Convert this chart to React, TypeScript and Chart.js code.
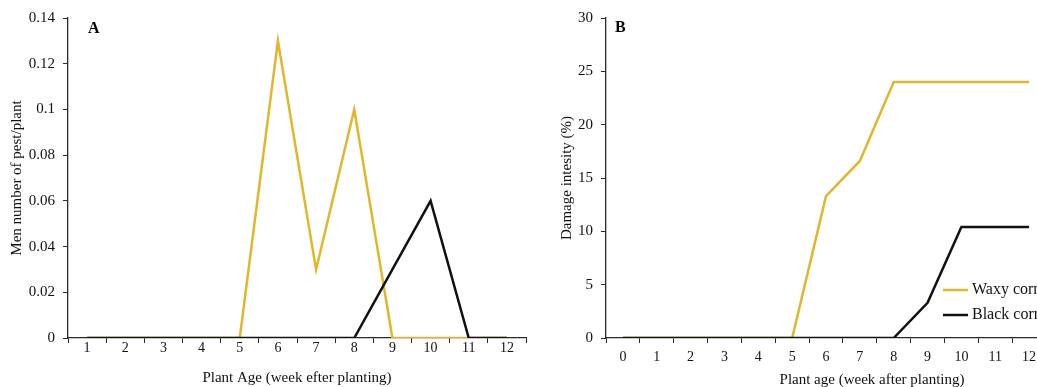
import { useEffect, useRef } from "react";
import { Chart, registerables } from "chart.js";

Chart.register(...registerables);

// ---- Panel A data ----
const weeksA = ["1", "2", "3", "4", "5", "6", "7", "8", "9", "10", "11", "12"];
const waxyPestA = [0, 0, 0, 0, 0, 0.13, 0.03, 0.1, 0, 0, 0, 0];
const blackPestA = [0, 0, 0, 0, 0, 0, 0, 0, 0.03, 0.06, 0, 0];
const yTickLabelsA = ["0", "0.02", "0.04", "0.06", "0.08", "0.1", "0.12", "0.14"];

// ---- Panel B data ----
const weeksB = ["0", "1", "2", "3", "4", "5", "6", "7", "8", "9", "10", "11", "12"];
const waxyDamageB = [0, 0, 0, 0, 0, 0, 13.3, 16.6, 24, 24, 24, 24, 24];
const blackDamageB = [0, 0, 0, 0, 0, 0, 0, 0, 0, 3.3, 10.4, 10.4, 10.4];
const yTickLabelsB = ["0", "5", "10", "15", "20", "25", "30"];

const seriesNames = ["Waxy corn", "Black corn"];

const YELLOW = "#E2B62A";
const BLACK = "#111111";
const AXIS = "#2a2a2a";
const FONT = "'Liberation Serif', 'Times New Roman', serif";

const decorPlugin = {
  id: "decor",
  afterDraw(chart: any, _args: any, opts: any) {
    const { ctx, chartArea } = chart;
    ctx.save();
    if (opts.letter) {
      ctx.font = `bold 16px ${FONT}`;
      ctx.fillStyle = "#000";
      ctx.textAlign = "left";
      ctx.textBaseline = "alphabetic";
      ctx.fillText(opts.letter, chartArea.left + opts.letterDx, chartArea.top + opts.letterDy);
    }
    if (opts.legend) {
      const x0 = chartArea.right - opts.legend.dxFromRight;
      opts.legend.items.forEach((it: any, i: number) => {
        const y = chartArea.bottom - opts.legend.dyFromBottom + i * 25;
        ctx.strokeStyle = it.color;
        ctx.lineWidth = 2.5;
        ctx.beginPath();
        ctx.moveTo(x0, y);
        ctx.lineTo(x0 + 25, y);
        ctx.stroke();
        ctx.font = `16px ${FONT}`;
        ctx.fillStyle = "#111";
        ctx.textAlign = "left";
        ctx.textBaseline = "middle";
        ctx.fillText(it.text, x0 + 29, y);
      });
    }
    if (opts.xTitle) {
      ctx.font = `15px ${FONT}`;
      ctx.fillStyle = "#111";
      ctx.textAlign = "center";
      ctx.textBaseline = "middle";
      ctx.fillText(opts.xTitle.text, chartArea.left + opts.xTitle.dx, opts.xTitle.y);
    }
    ctx.restore();
  },
};

function makeConfig(
  labels: string[],
  waxy: number[],
  black: number[],
  yMax: number,
  yStep: number,
  yLabels: string[],
  yTitle: string,
  yTitlePad: number,
  yWidth: number,
  xTitle: string | null,
  xTickPad: number,
  padRight: number,
  decor: any
): any {
  return {
    type: "line",
    data: {
      labels,
      datasets: [
        {
          label: seriesNames[1],
          data: black,
          borderColor: BLACK,
          borderWidth: 2.5,
          pointRadius: 0,
          tension: 0,
          fill: false,
        },
        {
          label: seriesNames[0],
          data: waxy,
          borderColor: YELLOW,
          borderWidth: 2.5,
          pointRadius: 0,
          tension: 0,
          fill: false,
        },
      ],
    },
    options: {
      responsive: false,
      animation: false,
      devicePixelRatio: 1,
      layout: { padding: { top: 18, right: padRight, bottom: 0, left: 0 } },
      plugins: {
        legend: { display: false },
        tooltip: { enabled: false },
        decor,
      },
      scales: {
        x: {
          type: "category",
          offset: true,
          grid: {
            display: true,
            offset: true,
            drawOnChartArea: false,
            drawTicks: true,
            tickLength: 5,
            color: AXIS,
            lineWidth: 1,
          },
          border: { display: true, color: AXIS, width: 1.3 },
          ticks: {
            font: { family: FONT, size: 14 },
            color: "#111",
            padding: xTickPad,
            maxRotation: 0,
            autoSkip: false,
          },
          title: {
            display: !!xTitle,
            text: xTitle || "",
            font: { family: FONT, size: 15 },
            color: "#111",
            padding: { top: 0, bottom: 0 },
          },
          afterFit: (s: any) => {
            s.height = 49;
          },
        },
        y: {
          min: 0,
          max: yMax,
          grid: {
            display: true,
            drawOnChartArea: false,
            drawTicks: true,
            tickLength: 5,
            color: AXIS,
            lineWidth: 1,
          },
          border: { display: true, color: AXIS, width: 1.3 },
          ticks: {
            stepSize: yStep,
            font: { family: FONT, size: 15 },
            color: "#111",
            padding: 8,
            callback: (_v: any, i: number) => yLabels[i],
          },
          title: {
            display: true,
            text: yTitle,
            font: { family: FONT, size: 15 },
            color: "#111",
            padding: { top: yTitlePad, bottom: 0 },
          },
          afterFit: (s: any) => {
            s.width = yWidth;
          },
        },
      },
    },
    plugins: [decorPlugin],
  };
}

export default function App() {
  const refA = useRef<HTMLCanvasElement>(null);
  const refB = useRef<HTMLCanvasElement>(null);

  useEffect(() => {
    const chartA = new Chart(
      refA.current as HTMLCanvasElement,
      makeConfig(
        weeksA,
        waxyPestA,
        blackPestA,
        0.14,
        0.02,
        yTickLabelsA,
        "Men number of pest/plant",
        8,
        68,
        "Plant Age (week efter planting)",
        -3,
        1,
        { letter: "A", letterDx: 20, letterDy: 15 }
      )
    );
    const chartB = new Chart(
      refB.current as HTMLCanvasElement,
      makeConfig(
        weeksB,
        waxyDamageB,
        blackDamageB,
        30,
        5,
        yTickLabelsB,
        "Damage intesity (%)",
        31,
        79,
        null,
        6,
        11,
        {
          letter: "B",
          letterDx: 9,
          letterDy: 14,
          legend: {
            dxFromRight: 103,
            dyFromBottom: 48,
            items: [
              { text: seriesNames[0], color: YELLOW },
              { text: seriesNames[1], color: BLACK },
            ],
          },
          xTitle: { text: "Plant age (week after planting)", dx: 266, y: 380 },
        }
      )
    );
    return () => {
      chartA.destroy();
      chartB.destroy();
    };
  }, []);

  return (
    <div
      style={{
        position: "fixed",
        left: 0,
        top: 0,
        width: 1037,
        height: 387,
        overflow: "hidden",
        background: "#fff",
      }}
    >
      <canvas
        ref={refA}
        width={527}
        height={387}
        style={{ position: "absolute", left: 0, top: 0, width: 527, height: 387 }}
      />
      <canvas
        ref={refB}
        width={530}
        height={387}
        style={{ position: "absolute", left: 527, top: 0, width: 530, height: 387 }}
      />
    </div>
  );
}
